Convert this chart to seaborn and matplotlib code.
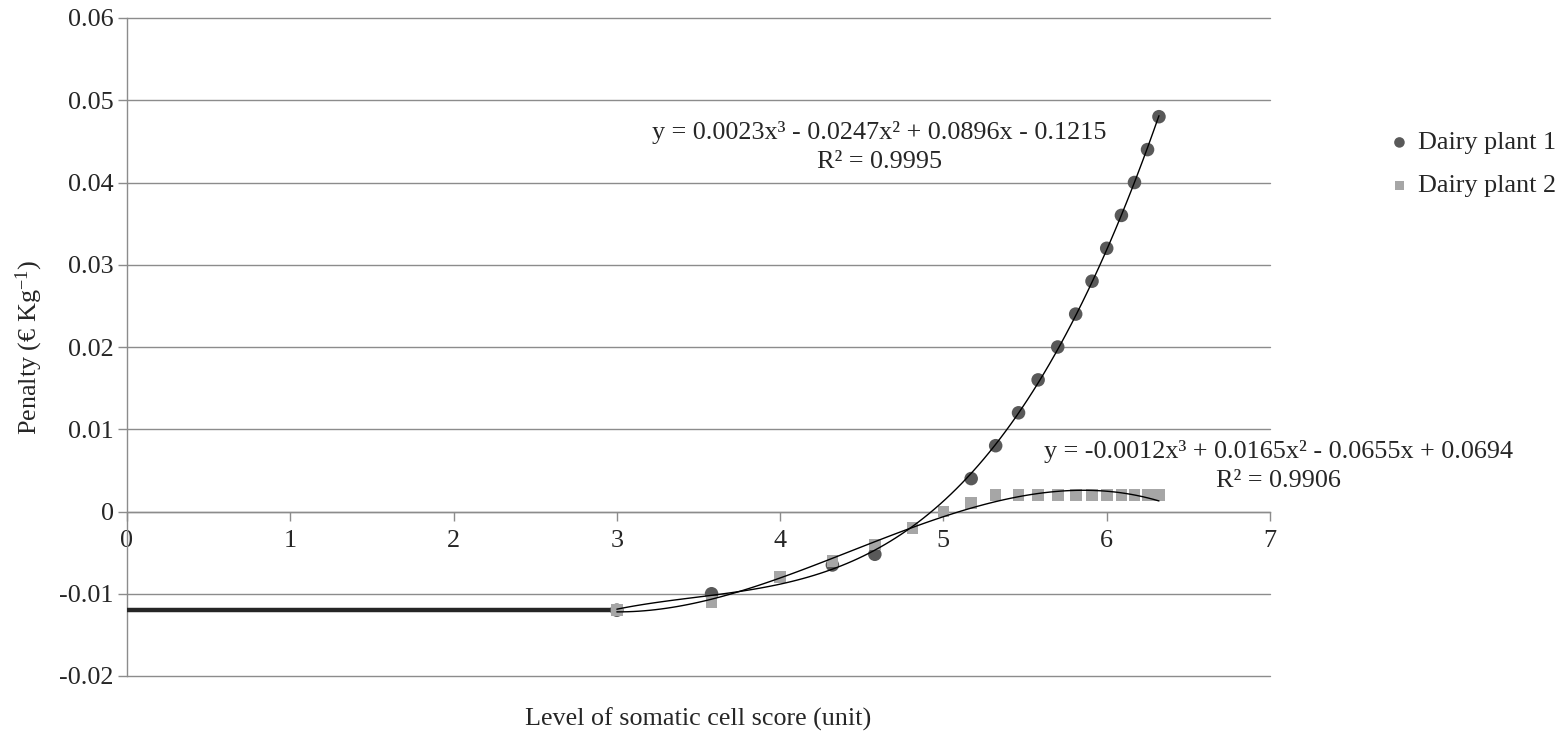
import matplotlib
matplotlib.use("Agg")
import matplotlib.pyplot as plt
import seaborn as sns
import pandas as pd

# ---- data ----
plant1_x = [3.00, 3.58, 4.32, 4.58, 5.17, 5.32, 5.46, 5.58, 5.70, 5.81, 5.91, 6.00, 6.09, 6.17, 6.25, 6.32]
plant1_y = [-0.012, -0.010, -0.0065, -0.0052, 0.004, 0.008, 0.012, 0.016, 0.020, 0.024, 0.028, 0.032, 0.036, 0.040, 0.044, 0.048]

plant2_x = [3.00, 3.58, 4.00, 4.32, 4.58, 4.81, 5.00, 5.17, 5.32, 5.46, 5.58, 5.70, 5.81, 5.91, 6.00, 6.09, 6.17, 6.25, 6.32]
plant2_y = [-0.012, -0.011, -0.008, -0.006, -0.004, -0.002, 0.000, 0.001, 0.002, 0.002, 0.002, 0.002, 0.002, 0.002, 0.002, 0.002, 0.002, 0.002, 0.002]

base_x = [0, 3]
base_y = [-0.012, -0.012]

series_names = ["Dairy plant 1", "Dairy plant 2"]
eq1_text = "y = 0.0023x³ - 0.0247x² + 0.0896x - 0.1215\nR² = 0.9995"
eq2_text = "y = -0.0012x³ + 0.0165x² - 0.0655x + 0.0694\nR² = 0.9906"
x_ticks = [0, 1, 2, 3, 4, 5, 6, 7]
y_ticks = [-0.02, -0.01, 0, 0.01, 0.02, 0.03, 0.04, 0.05, 0.06]
y_tick_labels = ["-0.02", "-0.01", "0", "0.01", "0.02", "0.03", "0.04", "0.05", "0.06"]
x_label = "Level of somatic cell score (unit)"
y_label = r"Penalty (€ Kg$^{-1}$)"

# ---- style ----
sns.set_style("white")
plt.rcParams["font.family"] = ["Liberation Serif", "DejaVu Serif"]
plt.rcParams["mathtext.fontset"] = "custom"
plt.rcParams["mathtext.rm"] = "Liberation Serif"
plt.rcParams["mathtext.it"] = "Liberation Serif:italic"
plt.rcParams["mathtext.default"] = "regular"

FS = 18.8
c1 = "#595959"
c2 = "#a6a6a6"
grid_c = "#8c8c8c"

fig = plt.figure(figsize=(15.67, 7.33), dpi=100)
ax = fig.add_axes([127 / 1567, 1 - 676 / 733, (1270 - 127) / 1567, (676 - 18) / 733])

df1 = pd.DataFrame({"x": plant1_x, "y": plant1_y})
df2 = pd.DataFrame({"x": plant2_x, "y": plant2_y})
dfb = pd.DataFrame({"x": base_x, "y": base_y})

sns.lineplot(data=dfb, x="x", y="y", ax=ax, color="#262626", lw=3.2, zorder=3)
sns.scatterplot(data=df1, x="x", y="y", ax=ax, marker="o", s=95, color=c1,
                edgecolor="none", label=series_names[0], zorder=4)
sns.scatterplot(data=df2, x="x", y="y", ax=ax, marker="s", s=70, color=c2,
                edgecolor="none", label=series_names[1], zorder=5)
sns.regplot(data=df1, x="x", y="y", ax=ax, order=3, ci=None, scatter=False,
            truncate=True, line_kws=dict(color="black", lw=1.0, zorder=6))
sns.regplot(data=df2, x="x", y="y", ax=ax, order=3, ci=None, scatter=False,
            truncate=True, line_kws=dict(color="black", lw=1.0, zorder=6))

ax.set_xlim(0, 7)
ax.set_ylim(-0.02, 0.06)
ax.set_xticks(x_ticks)
ax.set_xticklabels([str(t) for t in x_ticks])
ax.set_yticks(y_ticks)
ax.set_yticklabels(y_tick_labels)

ax.yaxis.grid(True, color=grid_c, lw=1.0)
ax.xaxis.grid(False)
ax.set_axisbelow(True)
for gl in ax.get_ygridlines():
    gl.set_clip_on(False)

for s in ["top", "right"]:
    ax.spines[s].set_visible(False)
ax.spines["bottom"].set_position(("data", 0))
ax.spines["bottom"].set_color(grid_c)
ax.spines["left"].set_color(grid_c)
ax.spines["bottom"].set_linewidth(1.0)
ax.spines["left"].set_linewidth(1.0)

ax.tick_params(axis="x", direction="out", length=6.5, width=1, color=grid_c,
               labelsize=FS, pad=7)
ax.tick_params(axis="y", direction="out", length=6.5, width=1, color=grid_c,
               labelsize=FS, pad=3)
ax.tick_params(axis="both", which="both", bottom=True, left=True)

ax.set_xlabel(x_label, fontsize=FS)
ax.xaxis.set_label_coords(0.5, -0.048)
ax.xaxis.label.set_va("top")
ax.set_ylabel(y_label, fontsize=FS)
ax.yaxis.set_label_coords(-0.072, 0.5)

ax.text(4.61, 0.0443, eq1_text, ha="center", va="center", fontsize=FS,
        linespacing=1.4, zorder=7)
ax.text(7.05, 0.0055, eq2_text, ha="center", va="center", fontsize=FS,
        linespacing=1.4, zorder=7, clip_on=False)

leg = ax.legend(loc="upper left", frameon=False, fontsize=FS, markerscale=0.78,
                handlelength=0.8, handletextpad=0.3, labelspacing=0.75,
                borderaxespad=0, borderpad=0)
leg.set_bbox_to_anchor((1389 / 1567, 1 - 131 / 733), transform=fig.transFigure)

fig.savefig("out.png", dpi=100)
